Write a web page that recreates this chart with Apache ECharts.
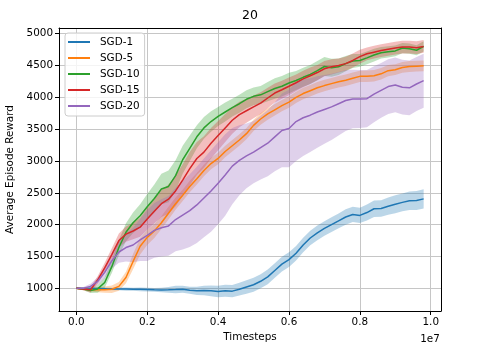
<!DOCTYPE html>
<html lang="en">
<head>
<meta charset="UTF-8">
<title>20</title>
<script src="https://cdn.jsdelivr.net/npm/echarts@6/dist/echarts.min.js"></script>
<style>
    * {padding: 0; margin: 0;}
    body {background: #fff;}
    #main {width: 479px; height: 350px;}
</style>
</head>
<body>
<div id="main"></div>
<script>
    // timesteps (x)
    const steps = [0, 200000, 400000, 600000, 800000, 1000000, 1200000, 1400000, 1600000, 1800000,
        2000000, 2200000, 2400000, 2600000, 2800000, 3000000, 3200000, 3400000, 3600000, 3800000,
        4000000, 4200000, 4400000, 4600000, 4800000, 5000000, 5200000, 5400000, 5600000, 5800000,
        6000000, 6200000, 6400000, 6600000, 6800000, 7000000, 7200000, 7400000, 7600000, 7800000,
        8000000, 8200000, 8400000, 8600000, 8800000, 9000000, 9200000, 9400000, 9600000, 9800000];

    const xTicks = [0, 2000000, 4000000, 6000000, 8000000, 10000000];
    const yTicks = [1000, 1500, 2000, 2500, 3000, 3500, 4000, 4500, 5000];

    // mean reward per run
    const sgd1 = [1000,998,996,995,993,990,990,988,985,983,980, 975,972,975,980,985,970,960,965,960,948,
        960,955,985,1020,1055,1110,1180,1280,1380,1450, 1550,1680,1790,1870,1940,2000,2060,2120,2160,2145,
        2190,2250,2255,2290,2320,2350,2375,2380,2405];
    const sgd5 = [1000,990,978,976,978,985,1030,1170,1420,1660,1800, 1900,2030,2180,2330,2460,2600,2720,2850,2960,3040,
        3150,3240,3330,3430,3560,3660,3740,3805,3870,3926, 4000,4060,4105,4150,4185,4216,4245,4270,4300,4330,
        4332,4340,4370,4420,4435,4470,4485,4490,4495];
    const sgd10 = [1000,990,965,990,1090,1340,1640,1880,2030,2140,2280, 2410,2560,2600,2770,3020,3200,3380,3520,3620,3700,
        3770,3840,3900,3970,4016,4040,4090,4140,4175,4226, 4265,4315,4360,4420,4485,4465,4480,4530,4570,4580,
        4620,4665,4700,4715,4730,4775,4765,4740,4800];
    const sgd15 = [1000,990,975,1130,1320,1530,1750,1850,1900,1960,2090, 2210,2330,2400,2530,2700,2880,3040,3140,3280,3400,
        3520,3640,3730,3790,3850,3910,3990,4068,4120,4174, 4230,4290,4340,4390,4450,4480,4500,4530,4580,4640,
        4685,4710,4735,4755,4775,4790,4790,4780,4800];
    const sgd20 = [1000,1000,1030,1110,1250,1430,1570,1640,1680,1760,1830, 1910,1950,1980,2080,2150,2220,2310,2420,2530,2650,
        2780,2920,3010,3080,3140,3210,3280,3380,3480,3510, 3620,3680,3720,3770,3810,3850,3900,3950,3975,3975,
        3980,4050,4110,4170,4195,4160,4150,4210,4262];

    // spread (half width of the shaded band)
    const sgd1Std = [10,12,15,15,18,20, 22,25,25,28,30,30,35,45,60,55, 55,65,75,85,90,95,95,100,105,110,
        110,115,115,115,115,115,115,115,115,115, 115,115,120,120,120,125,130,130,135,140,140,145,150,150];
    const sgd5Std = [10,20,30,40,50,60, 70,90,120,130,120,110,100,100,95,90, 90,90,90,90,90,90,90,90,90,90,
        90,90,90,90,90,90,90,90,90,90, 90,90,90,90,90,90,90,90,90,85,85,85,85,85];
    const sgd10Std = [10,20,40,60,80,100, 120,140,160,180,200,220,240,250,240,220, 200,180,170,160,150,150,140,140,140,140,
        140,150,160,160,160,150,150,150,150,150, 140,130,120,110,100,100,100,90,90,85,80,80,80,80];
    const sgd15Std = [10,20,40,60,80,100, 110,120,130,150,170,190,210,230,240,250, 260,260,250,240,230,220,210,200,190,180,
        170,160,150,140,140,130,130,130,120,120, 120,110,110,110,110,100,100,100,100,100,100,100,100,100];
    const sgd20Std = [10,20,40,60,90,120, 170,220,270,330,400,430,450,470,500,540, 570,600,620,640,645,640,600,550,510,490,
        500,520,540,580,610,620,600,580,560,540, 520,500,480,460,455,450,440,430,430,430,430,430,425,425];

    const names = ['SGD-1', 'SGD-5', 'SGD-10', 'SGD-15', 'SGD-20'];
    const colors = ['#1f77b4', '#ff7f0e', '#2ca02c', '#d62728', '#9467bd'];
    const means = [sgd1, sgd5, sgd10, sgd15, sgd20];
    const stds = [sgd1Std, sgd5Std, sgd10Std, sgd15Std, sgd20Std];

    const font = 'DejaVu Sans';
    const ink = '#000';

    // shaded band (mean +/- std) as one polygon, mapped through the axes
    function bandRenderer(k) {
        return function(params, api) {
            let upper = [], lower = [];
            for (let i = 0; i < steps.length; i++) {
                upper.push(api.coord([steps[i], means[k][i] + stds[k][i]]));
                lower.push(api.coord([steps[i], means[k][i] - stds[k][i]]));
            }
            return {
                type: 'polygon',
                shape: {points: upper.concat(lower.reverse())},
                style: {fill: colors[k], opacity: 0.3},
                silent: true
            };
        };
    }

    let series = [];
    names.forEach(function(name, k) {
        series.push({
            name: name, type: 'line', symbol: 'none', animation: false,
            data: steps.map(function(x, i) { return [x, means[k][i]]; }),
            lineStyle: {width: 1.5, color: colors[k]},
            itemStyle: {color: colors[k]}
        });
        series.push({
            name: name + ' band', type: 'custom', animation: false, silent: true,
            data: [[steps[0], means[k][0]]],
            encode: {x: 0, y: 1},
            renderItem: bandRenderer(k)
        });
    });

    const xMin = -490000, xMax = 10290000;
    const yMin = 643, yMax = 5090;

    const chart = echarts.init(document.getElementById('main'));
    chart.setOption({
        animation: false,
        grid: {left: 59, right: 38, top: 28, bottom: 39, outerBoundsMode: 'none'},
        legend: {
            data: names, orient: 'vertical', left: 65, top: 33,
            icon: 'rect', itemWidth: 22, itemHeight: 2, itemGap: 4,
            padding: [3, 5, 4, 3],
            backgroundColor: 'rgba(255,255,255,0.8)',
            borderColor: '#cccccc', borderWidth: 1, borderRadius: 3,
            selectedMode: false,
            textStyle: {fontSize: 10.4, fontFamily: font, color: ink, lineHeight: 12, padding: [0, 0, 0, 5]}
        },
        xAxis: [{
            type: 'value', min: xMin, max: xMax, position: 'bottom',
            name: 'Timesteps', nameLocation: 'middle', nameGap: 21,
            nameTextStyle: {fontSize: 10.4, fontFamily: font, color: ink},
            axisLine: {onZero: false, lineStyle: {color: ink, width: 1}},
            axisTick: {show: true, inside: false, length: 4, customValues: xTicks, lineStyle: {color: ink}},
            axisLabel: {
                customValues: xTicks, margin: 6, fontSize: 10.4, fontFamily: font, color: ink,
                formatter: function(v) { return (v / 1e7).toFixed(1); }
            },
            splitLine: {show: true, lineStyle: {color: '#c6c6c6', width: 1}}
        }, {
            type: 'value', min: xMin, max: xMax, position: 'top',
            axisLine: {onZero: false, lineStyle: {color: ink, width: 1}},
            axisTick: {show: false}, axisLabel: {show: false}, splitLine: {show: false}
        }],
        yAxis: [{
            type: 'value', min: yMin, max: yMax, position: 'left',
            name: 'Average Episode Reward', nameLocation: 'middle', nameGap: 40,
            nameTextStyle: {fontSize: 10.4, fontFamily: font, color: ink},
            axisLine: {show: true, onZero: false, lineStyle: {color: ink, width: 1}},
            axisTick: {show: true, inside: false, length: 4, customValues: yTicks, lineStyle: {color: ink}},
            axisLabel: {
                customValues: yTicks, margin: 6, fontSize: 10.4, fontFamily: font, color: ink,
                formatter: function(v) { return String(v); }
            },
            splitLine: {show: true, lineStyle: {color: '#c6c6c6', width: 1}}
        }, {
            type: 'value', min: yMin, max: yMax, position: 'right',
            axisLine: {show: true, onZero: false, lineStyle: {color: ink, width: 1}},
            axisTick: {show: false}, axisLabel: {show: false}, splitLine: {show: false}
        }],
        graphic: [
            {type: 'text', x: 250, y: 16, style: {text: '20', font: '12.5px "DejaVu Sans"', fill: ink, align: 'center', verticalAlign: 'middle'}},
            {type: 'text', x: 430, y: 339, style: {text: '1e7', font: '10.4px "DejaVu Sans"', fill: ink, align: 'center', verticalAlign: 'middle'}}
        ],
        series: series
    });
</script>
</body>
</html>
